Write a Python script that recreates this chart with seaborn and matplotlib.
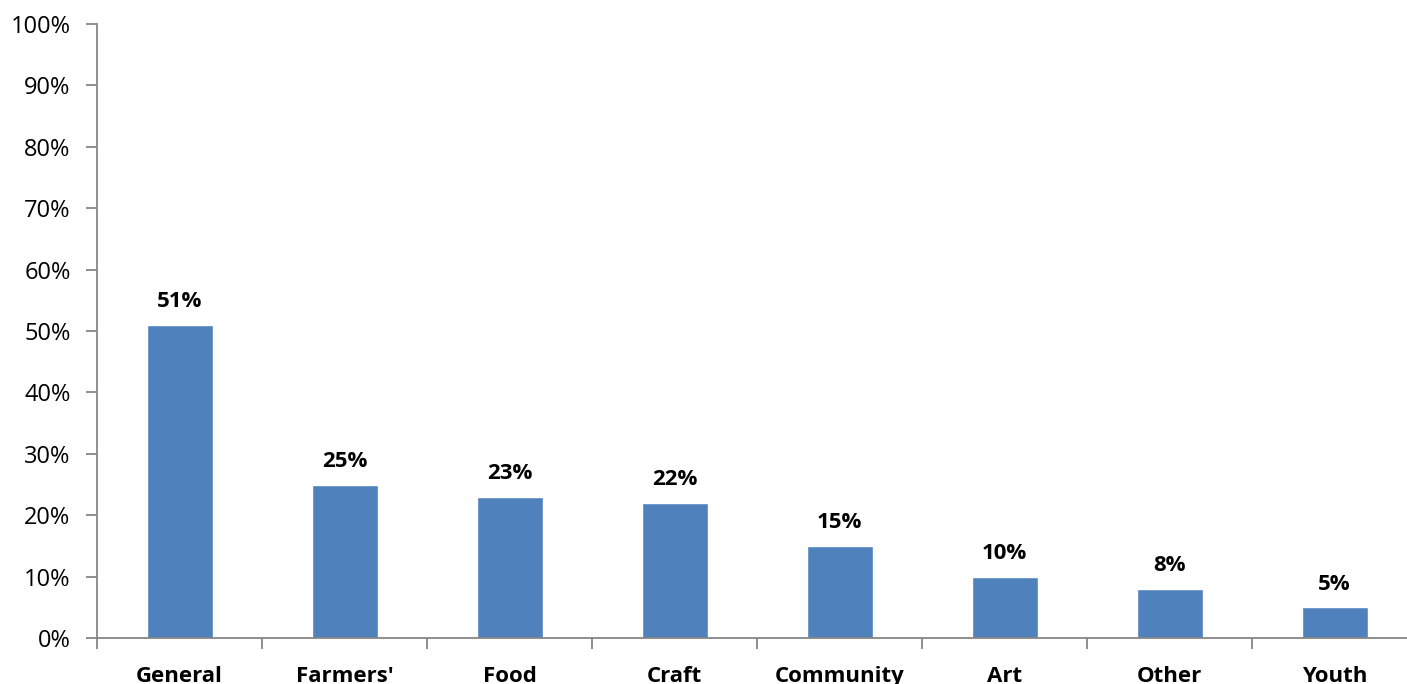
import matplotlib
matplotlib.use("Agg")
import matplotlib.pyplot as plt
import seaborn as sns
import numpy as np
import pandas as pd
from matplotlib.ticker import FixedLocator, PercentFormatter

categories = ["General", "Farmers'", "Food", "Craft", "Community", "Art", "Other", "Youth"]
shares = [51, 25, 23, 22, 15, 10, 8, 5]
y_ticks = [0, 10, 20, 30, 40, 50, 60, 70, 80, 90, 100]

sns.set_theme(style="white")
plt.rcParams["font.family"] = ["Open Sans", "DejaVu Sans"]

df = pd.DataFrame({"category": categories, "share": shares})

W, H = 1407, 684
fig = plt.figure(figsize=(W / 100, H / 100), dpi=100)
left, right = 97, 1417
bottom, top = 638, 24
ax = fig.add_axes([left / W, 1 - bottom / H, (right - left) / W, (bottom - top) / H])

bar_color = "#4F81BD"
sns.barplot(data=df, x="category", y="share", color=bar_color, width=0.4,
            saturation=1, ax=ax, order=categories)

ax.set_xlim(-0.5, len(categories) - 0.5)
ax.set_ylim(0, 100)
ax.set_xlabel("")
ax.set_ylabel("")

spine_color = "#868686"
for side in ["top", "right"]:
    ax.spines[side].set_visible(False)
for side in ["left", "bottom"]:
    ax.spines[side].set_color(spine_color)
    ax.spines[side].set_linewidth(1.3)

ax.yaxis.set_major_locator(FixedLocator(y_ticks))
ax.yaxis.set_major_formatter(PercentFormatter(decimals=0))
ax.tick_params(axis="y", which="major", left=True, length=8, width=1.3,
               color=spine_color, labelsize=17, labelcolor="black", pad=11)

# category labels centered under bars, tick marks at category boundaries
ax.set_xticks(range(len(categories)))
ax.set_xticklabels(categories, fontweight="bold")
ax.tick_params(axis="x", which="major", bottom=False, length=0, labelsize=16,
               labelcolor="black", pad=20)
ax.set_xticks(np.arange(-0.5, len(categories), 1.0), minor=True)
ax.tick_params(axis="x", which="minor", bottom=True, length=8, width=1.3,
               color=spine_color)

for i, v in enumerate(shares):
    ax.annotate(f"{v}%", (i, v), xytext=(0, 9), textcoords="offset points",
                ha="center", va="bottom", fontsize=16, fontweight="bold",
                color="black")

fig.savefig("out.png", dpi=100)
